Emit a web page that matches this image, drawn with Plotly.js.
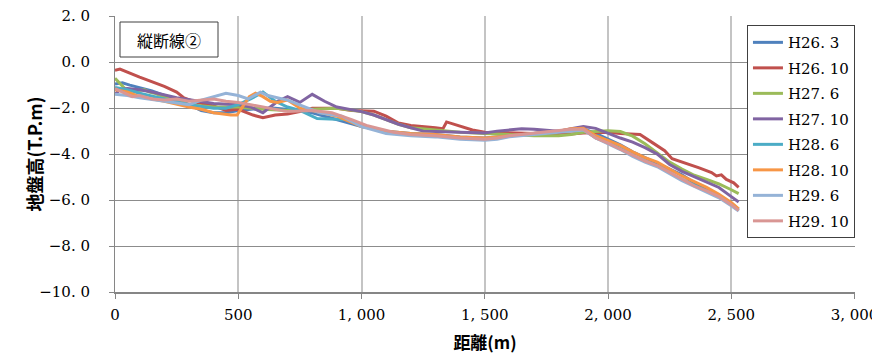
<!DOCTYPE html>
<html>
<head>
<meta charset="utf-8">
<script src="https://cdn.plot.ly/plotly-3.0.1.min.js"></script>
<style>html,body{margin:0;padding:0;background:#fff;}#chart{width:872px;height:354px;}</style>
</head>
<body>
<div id="chart"></div>
<script>
// ---- data (distance m, ground level T.P.m) ----
const seriesNames = ["H26. 3", "H26. 10", "H27. 6", "H27. 10", "H28. 6", "H28. 10", "H29. 6", "H29. 10"];
const seriesColors = ["#4F81BD", "#C0504D", "#9BBB59", "#8064A2", "#4BACC6", "#F79646", "#95B3D7", "#D99694"];

const xH26_3 = [0,30,60,100,150,200,250,300,350,400,450,500,550,600,650,700,750,800,900,1000,1100,1200,1300,1400,1500,1600,1700,1800,1850,1900,1950,2000,2050,2100,2150,2200,2250,2300,2350,2400,2450,2500,2530];
const yH26_3 = [-0.95,-0.9,-1.0,-1.1,-1.25,-1.45,-1.6,-1.85,-2.1,-2.2,-2.2,-2.1,-2.05,-2.0,-2.0,-2.05,-2.1,-2.2,-2.5,-2.8,-3.0,-3.1,-3.15,-3.25,-3.3,-3.2,-3.1,-3.0,-2.95,-2.9,-3.1,-3.35,-3.6,-3.9,-4.15,-4.4,-4.65,-4.9,-5.25,-5.5,-5.8,-6.15,-6.4];

const xH26_10 = [0,20,100,200,250,280,330,400,450,500,560,600,650,700,750,800,900,960,1050,1100,1150,1200,1300,1330,1345,1380,1450,1500,1600,1700,1800,1850,1900,1950,2000,2050,2100,2130,2180,2230,2260,2320,2370,2420,2440,2460,2480,2510,2530];
const yH26_10 = [-0.35,-0.3,-0.65,-1.05,-1.3,-1.55,-1.75,-1.9,-2.1,-2.05,-2.3,-2.42,-2.3,-2.25,-2.15,-2.0,-2.0,-2.1,-2.13,-2.35,-2.65,-2.75,-2.85,-2.9,-2.6,-2.72,-2.95,-3.05,-3.08,-3.1,-3.1,-3.12,-3.08,-3.05,-3.05,-3.1,-3.12,-3.15,-3.5,-3.85,-4.2,-4.4,-4.6,-4.8,-4.95,-4.9,-5.1,-5.25,-5.45];

const xH27_6 = [0,20,40,80,120,140,160,220,300,400,500,600,700,800,900,1000,1050,1100,1150,1200,1300,1400,1500,1600,1700,1800,1850,1900,1950,2000,2050,2100,2150,2200,2250,2300,2350,2400,2450,2500,2530];
const yH27_6 = [-0.7,-0.95,-1.15,-1.25,-1.2,-1.3,-1.35,-1.6,-1.85,-1.95,-1.95,-2.05,-2.1,-2.05,-2.0,-2.15,-2.3,-2.5,-2.7,-2.85,-2.95,-3.05,-3.1,-3.15,-3.2,-3.2,-3.15,-3.05,-3.0,-2.98,-3.02,-3.22,-3.55,-3.95,-4.35,-4.65,-4.92,-5.1,-5.3,-5.55,-5.72];

const xH27_10 = [0,20,50,100,150,250,400,500,550,580,600,630,660,700,750,800,850,900,950,1000,1050,1100,1150,1200,1250,1300,1400,1500,1550,1600,1650,1700,1750,1800,1850,1900,1950,2000,2050,2100,2150,2200,2250,2300,2350,2400,2450,2500,2530];
const yH27_10 = [-1.4,-1.2,-1.15,-1.2,-1.3,-1.55,-1.8,-1.85,-1.95,-2.1,-2.2,-1.95,-1.7,-1.5,-1.75,-1.4,-1.7,-1.95,-2.05,-2.15,-2.3,-2.5,-2.7,-2.85,-3.0,-3.02,-3.05,-3.08,-3.0,-2.95,-2.9,-2.92,-2.95,-3.0,-2.9,-2.8,-2.88,-3.1,-3.3,-3.48,-3.72,-4.0,-4.45,-4.75,-4.98,-5.2,-5.45,-5.85,-6.08];

const xH28_6 = [0,50,100,200,300,400,450,500,550,600,650,700,750,820,900,950,1000,1100,1200,1300,1400,1500,1550,1600,1700,1800,1850,1900,1950,2000,2050,2100,2150,2200,2250,2300,2350,2400,2450,2500,2530];
const yH28_6 = [-1.1,-1.2,-1.35,-1.6,-1.85,-2.0,-2.0,-1.85,-1.6,-1.3,-1.7,-1.95,-2.1,-2.45,-2.5,-2.5,-2.75,-3.05,-3.15,-3.2,-3.3,-3.35,-3.3,-3.2,-3.1,-3.0,-2.95,-2.92,-3.3,-3.5,-3.75,-4.05,-4.3,-4.5,-4.8,-5.1,-5.35,-5.6,-5.85,-6.2,-6.45];

const xH28_10 = [0,50,100,200,300,350,400,470,495,520,545,570,600,630,660,700,750,800,900,1000,1100,1200,1300,1400,1500,1550,1600,1700,1800,1850,1900,1950,2000,2050,2100,2150,2200,2250,2300,2350,2400,2450,2500,2530];
const yH28_10 = [-1.2,-1.3,-1.5,-1.7,-1.95,-2.05,-2.2,-2.3,-2.3,-1.9,-1.5,-1.35,-1.5,-1.7,-1.75,-1.65,-2.0,-2.1,-2.35,-2.8,-3.0,-3.1,-3.15,-3.25,-3.3,-3.25,-3.2,-3.1,-3.0,-2.9,-2.88,-3.2,-3.4,-3.62,-3.9,-4.15,-4.35,-4.65,-4.95,-5.2,-5.45,-5.75,-6.1,-6.38];

const xH29_6 = [0,50,100,200,300,350,400,450,500,540,590,620,700,770,830,920,1000,1100,1200,1300,1400,1500,1550,1600,1700,1800,1850,1900,1950,2000,2050,2100,2150,2200,2250,2300,2350,2400,2450,2500,2530];
const yH29_6 = [-1.4,-1.45,-1.55,-1.7,-1.85,-1.65,-1.5,-1.35,-1.45,-1.6,-1.3,-1.45,-1.65,-1.95,-2.2,-2.35,-2.8,-3.1,-3.2,-3.25,-3.35,-3.4,-3.35,-3.25,-3.15,-3.05,-2.98,-2.95,-3.3,-3.55,-3.8,-4.1,-4.35,-4.55,-4.85,-5.15,-5.4,-5.65,-5.9,-6.25,-6.48];

const xH29_10 = [0,30,70,100,150,200,250,300,350,400,450,500,550,600,700,800,880,960,1020,1130,1200,1300,1400,1500,1550,1600,1700,1800,1850,1900,1950,2000,2050,2100,2150,2200,2250,2300,2350,2400,2450,2500,2530];
const yH29_10 = [-1.15,-1.3,-1.5,-1.45,-1.6,-1.65,-1.6,-1.7,-1.65,-1.6,-1.7,-1.75,-1.85,-1.95,-2.15,-2.1,-2.2,-2.5,-2.75,-3.05,-3.15,-3.2,-3.3,-3.35,-3.3,-3.2,-3.1,-3.0,-2.92,-2.92,-3.3,-3.52,-3.78,-4.05,-4.3,-4.5,-4.8,-5.1,-5.38,-5.6,-5.85,-6.2,-6.45];

const xTickVals = [0, 500, 1000, 1500, 2000, 2500, 3000];
const xTickText = ["0", "500", "1, 000", "1, 500", "2, 000", "2, 500", "3, 000"];
const yTickVals = [2, 0, -2, -4, -6, -8, -10];
const yTickText = ["2. 0", "0. 0", "\u22122. 0", "\u22124. 0", "\u22126. 0", "\u22128. 0", "\u221210. 0"];

const xTitle = "距離(m)";
const yTitle = "地盤高(T.P.m)";
const boxLabel = "縦断線②";

const xs = [xH26_3, xH26_10, xH27_6, xH27_10, xH28_6, xH28_10, xH29_6, xH29_10];
const ys = [yH26_3, yH26_10, yH27_6, yH27_10, yH28_6, yH28_10, yH29_6, yH29_10];

const traces = seriesNames.map((n, i) => ({
  type: "scatter", mode: "lines", name: n,
  x: xs[i], y: ys[i], legendgroup: "g" + i,
  line: {color: seriesColors[i], width: 3}
}));

const serif = "DejaVu Serif";
const cjk = "Noto Sans CJK JP";

const layout = {
  width: 872, height: 354,
  margin: {l: 115, r: 17, t: 16, b: 62},
  paper_bgcolor: "#fff", plot_bgcolor: "#fff",
  showlegend: true,
  legend: {
    x: 0.854, y: 0.967, xanchor: "left", yanchor: "top",
    bgcolor: "#fff", bordercolor: "#404040", borderwidth: 1,
    font: {family: serif, size: 15, color: "#000"},
    tracegroupgap: 3, itemwidth: 30
  },
  xaxis: {
    range: [0, 3002], tickvals: xTickVals, ticktext: xTickText,
    showgrid: true, gridcolor: "#c4c4c4", gridwidth: 2,
    showline: true, linecolor: "#868686", linewidth: 2,
    ticks: "outside", ticklen: 5, tickcolor: "#868686",
    ticklabelstandoff: 3, ticklabeloverflow: "allow",
    tickfont: {family: serif, size: 15, color: "#000"},
    zeroline: false, automargin: false,
    title: {text: xTitle, font: {family: cjk, size: 17, color: "#000", weight: "bold"}}
  },
  yaxis: {
    range: [-10, 2.01], tickvals: yTickVals, ticktext: yTickText,
    showgrid: true, gridcolor: "#8c8c8c", gridwidth: 1,
    showline: true, linecolor: "#868686", linewidth: 1,
    ticks: "outside", ticklen: 5, tickcolor: "#868686",
    ticklabelstandoff: 16, ticklabeloverflow: "allow",
    tickfont: {family: serif, size: 15, color: "#000"},
    zeroline: false, automargin: false,
    title: {text: yTitle, font: {family: cjk, size: 18, color: "#000", weight: "bold"}}
  },
  shapes: [{
    type: "rect", xref: "paper", yref: "paper",
    x0: 5/740, x1: 103/740, y0: 235/276, y1: 270/276,
    line: {color: "#404040", width: 1}, fillcolor: "#fff", layer: "above"
  }],
  annotations: [{
    xref: "paper", yref: "paper", x: 54/740, y: 252.5/276,
    xanchor: "center", yanchor: "middle", showarrow: false,
    text: boxLabel, font: {family: cjk, size: 16, color: "#000"}
  }]
};

Plotly.newPlot("chart", traces, layout, {staticPlot: true, displayModeBar: false});
</script>
</body>
</html>
